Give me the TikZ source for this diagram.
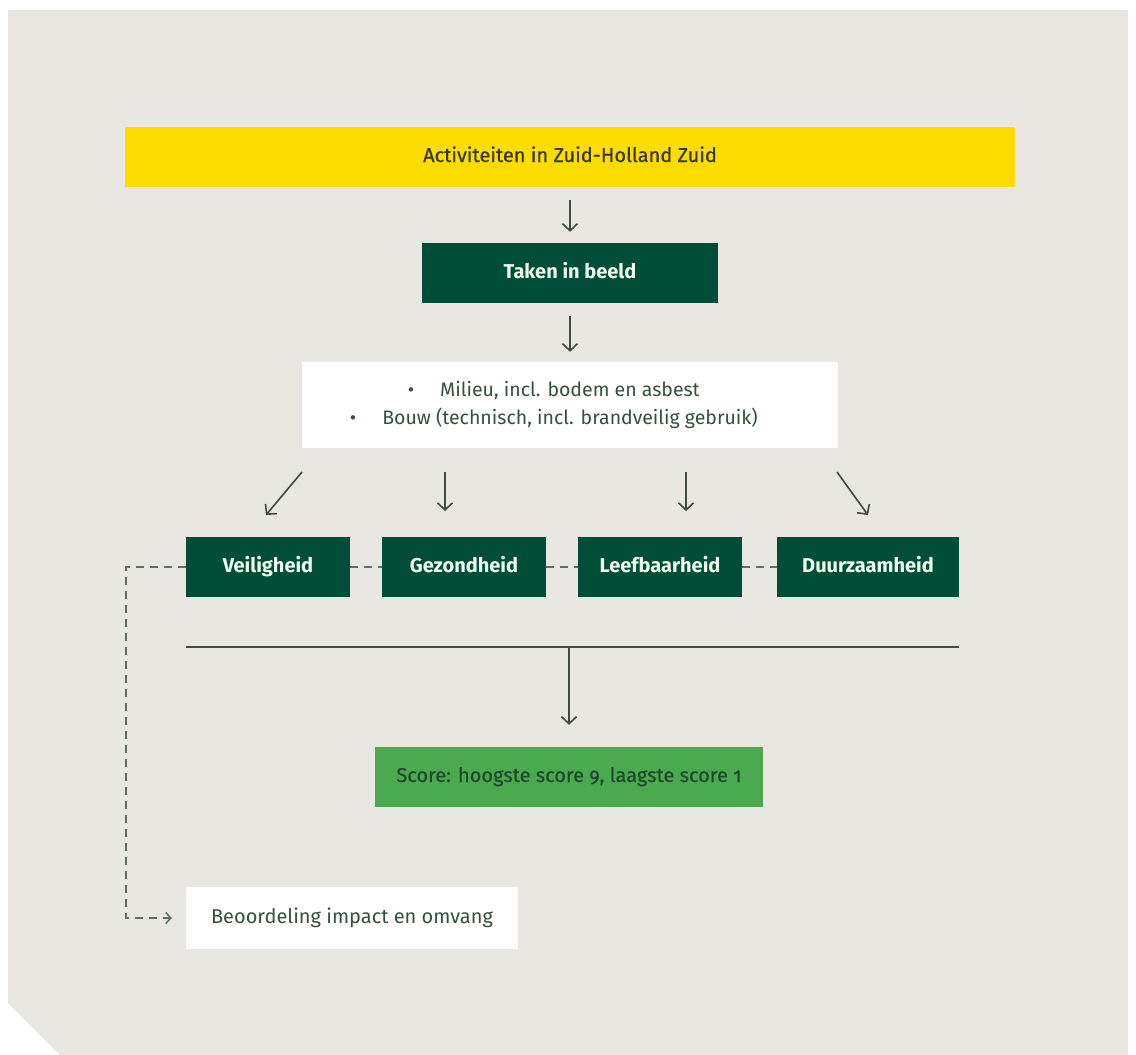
\documentclass[tikz,border=0pt]{standalone}
\usepackage{fontspec}
\setmainfont{Fira Sans}[Numbers=OldStyle]
\newfontfamily\medfont{Fira Sans}[Numbers=OldStyle,FakeBold=0.6]
\usetikzlibrary{arrows.meta,calc}
\definecolor{bg}{HTML}{E8E7E2}
\definecolor{ylw}{HTML}{FDDC00}
\definecolor{dkgreen}{HTML}{004D38}
\definecolor{scoregreen}{HTML}{4BA94F}
\definecolor{arrowcol}{HTML}{3E4A43}
\definecolor{dashcol}{HTML}{5F6E66}
\definecolor{ytext}{HTML}{3A3620}
\definecolor{wtext}{HTML}{34503F}
\definecolor{stext}{HTML}{1D4A28}
\begin{document}
\begin{tikzpicture}[x=1pt,y=-1pt,
  box/.style={inner sep=0pt, anchor=center, text height=14pt, text depth=4pt, font=\fontsize{20}{24}\selectfont},
  darkbox/.style={box, fill=dkgreen, text=white!94!green, font=\fontsize{20}{24}\selectfont\bfseries, minimum height=60pt},
  arr/.style={draw=arrowcol, line width=1.6pt, -{Straight Barb[length=7pt,width=15pt,line width=1.6pt]}},
  dsh/.style={draw=dashcol, line width=1.5pt, dash pattern=on 8pt off 6pt}
]
% page and panel
\path[fill=white] (0,0) rectangle (1136,1055);
\useasboundingbox (0,0) rectangle (1136,1055);
\path[fill=bg] (8,10) -- (1128,10) -- (1128,1055) -- (60,1055) -- (8,1003) -- cycle;

% nodes
\node[box, fill=ylw, text=ytext, font=\fontsize{20}{24}\medfont, minimum width=890pt, minimum height=60pt] (act) at (570,157) {Activiteiten in Zuid-Holland Zuid};
\node[darkbox, minimum width=296pt] (taken) at (570,273) {Taken in beeld};
\node[box, fill=white, text=wtext, font=\fontsize{19.5}{28}\selectfont, text height=, text depth=, minimum width=536pt, minimum height=86pt, align=center] (dom) at (570,405)
  {\makebox[0pt][r]{\textbullet\hspace{26pt}}Milieu, incl. bodem en asbest\\
   \makebox[0pt][r]{\textbullet\hspace{26pt}}Bouw (technisch, incl. brandveilig gebruik)};
\node[darkbox, minimum width=164pt] (veil) at (268,567) {Veiligheid};
\node[darkbox, minimum width=164pt] (gez) at (464,567) {Gezondheid};
\node[darkbox, minimum width=164pt] (leef) at (660,567) {Leefbaarheid};
\node[darkbox, minimum width=182pt] (duur) at (868,567) {Duurzaamheid};
\node[box, fill=scoregreen, text=stext, font=\fontsize{20}{24}\medfont, minimum width=388pt, minimum height=60pt] (score) at (569,777) {Score: hoogste score 9, laagste score 1};
\node[box, fill=white, text=wtext, minimum width=332pt, minimum height=62pt] (beo) at (352,918) {Beoordeling impact en omvang};

% coordinates for free arrows
\coordinate (a1s) at (302,472); \coordinate (a1e) at (266,515);
\coordinate (a2s) at (445,472); \coordinate (a2e) at (445,511);
\coordinate (a3s) at (686,472); \coordinate (a3e) at (686,511);
\coordinate (a4s) at (837,472); \coordinate (a4e) at (868,515);
\coordinate (hl1) at (veil.south west |- 0,647);
\coordinate (hl2) at (duur.south east |- 0,647);
\coordinate (hlm) at (score.north |- hl1);
\coordinate (dcorner) at (126,567);

% connectors
\draw[arr, shorten <=13pt, shorten >=11pt] (act.south) -- (taken.north);
\draw[arr, shorten <=13pt, shorten >=10pt] (taken.south) -- (dom.north);
\draw[arr] (a1s) -- (a1e);
\draw[arr] (a2s) -- (a2e);
\draw[arr] (a3s) -- (a3e);
\draw[arr] (a4s) -- (a4e);
\draw[dsh] (veil.east) -- (gez.west);
\draw[dsh] (gez.east) -- (leef.west);
\draw[dsh] (leef.east) -- (duur.west);
\draw[draw=arrowcol, line width=1.4pt] (hl1) -- (hl2);
\draw[arr, shorten >=22pt] (hlm) -- (score.north);
\draw[dsh, -{Straight Barb[length=5pt,width=11pt,line width=1.5pt]}, shorten >=14pt] (veil.west) -- (dcorner) |- (beo.west);
\end{tikzpicture}
\end{document}
